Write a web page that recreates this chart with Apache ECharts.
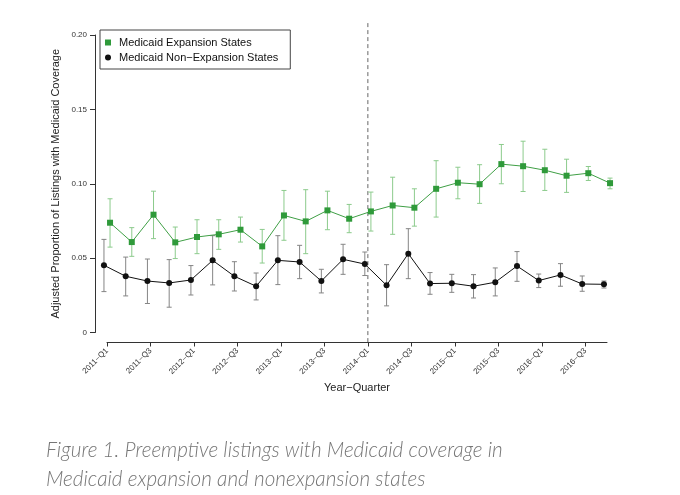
<!DOCTYPE html>
<html><head><meta charset="utf-8">
<script src="https://cdn.jsdelivr.net/npm/echarts@6/dist/echarts.min.js"></script>
<style>html,body{margin:0;padding:0;background:#fff}#c{width:680px;height:495px}</style>
</head><body><div id="c"></div>
<script>
const quarters = ['2011−Q1','2011−Q2','2011−Q3','2011−Q4','2012−Q1','2012−Q2','2012−Q3','2012−Q4',
  '2013−Q1','2013−Q2','2013−Q3','2013−Q4','2014−Q1','2014−Q2','2014−Q3','2014−Q4',
  '2015−Q1','2015−Q2','2015−Q3','2015−Q4','2016−Q1','2016−Q2','2016−Q3','2016−Q4'];
const xTickLabels = ['2011−Q1','2011−Q3','2012−Q1','2012−Q3','2013−Q1','2013−Q3','2014−Q1','2014−Q3','2015−Q1','2015−Q3','2016−Q1','2016−Q3'];
const yTicks = [0, 0.05, 0.10, 0.15, 0.20];
const yTickLabels = ['0','0.05','0.10','0.15','0.20'];
const policyQuarter = '2014−Q1';

const expansion     = [0.0738,0.0608,0.0792,0.0606,0.0642,0.0660,0.0691,0.0579,0.0787,0.0747,0.0821,0.0765,0.0814,0.0854,0.0839,0.0966,0.1007,0.0997,0.1132,0.1118,0.1091,0.1054,0.1071,0.1004];
const expansionLow  = [0.0574,0.0512,0.0631,0.0497,0.0530,0.0559,0.0608,0.0467,0.0620,0.0530,0.0691,0.0671,0.0682,0.0660,0.0715,0.0776,0.0899,0.0868,0.1000,0.0948,0.0955,0.0942,0.1022,0.0966];
const expansionHigh = [0.0899,0.0705,0.0950,0.0709,0.0758,0.0758,0.0776,0.0693,0.0955,0.0960,0.0950,0.0861,0.0944,0.1044,0.0966,0.1155,0.1111,0.1128,0.1264,0.1286,0.1232,0.1165,0.1116,0.1038];

const nonExpansion     = [0.0452,0.0378,0.0346,0.0333,0.0353,0.0485,0.0378,0.0311,0.0485,0.0474,0.0346,0.0492,0.0460,0.0317,0.0530,0.0329,0.0331,0.0311,0.0338,0.0447,0.0349,0.0387,0.0326,0.0324];
const nonExpansionLow  = [0.0275,0.0246,0.0195,0.0170,0.0252,0.0320,0.0279,0.0219,0.0322,0.0362,0.0266,0.0391,0.0383,0.0179,0.0362,0.0257,0.0270,0.0232,0.0246,0.0344,0.0302,0.0311,0.0277,0.0299];
const nonExpansionHigh = [0.0626,0.0507,0.0494,0.0490,0.0450,0.0651,0.0476,0.0400,0.0651,0.0586,0.0425,0.0593,0.0541,0.0456,0.0698,0.0403,0.0391,0.0389,0.0434,0.0544,0.0393,0.0463,0.0380,0.0346];

const nameExp = 'Medicaid Expansion States';
const nameNon = 'Medicaid Non−Expansion States';
const dodge = 0.14;
const GREEN = '#2f9a3a', GREEN_LINE = '#3f9f45', GREEN_ERR = '#8ccb8c';
const BLACK = '#111111', GRAY_ERR = '#858585';

const tickPos = xTickLabels.map(l => quarters.indexOf(l));
const policyIdx = quarters.indexOf(policyQuarter);

function errSeries(vals, lo, hi, off, color) {
  return {
    type: 'custom', clip: false, silent: true, z: 2,
    data: vals.map((v, i) => [i + off, lo[i], hi[i]]),
    encode: { x: 0, y: [1, 2] },
    renderItem: (params, api) => {
      const a = api.coord([api.value(0), api.value(2)]);
      const b = api.coord([api.value(0), api.value(1)]);
      const w = 2.5;
      const st = { stroke: color, lineWidth: 1 };
      return { type: 'group', children: [
        { type: 'line', shape: { x1: a[0], y1: a[1], x2: b[0], y2: b[1] }, style: st },
        { type: 'line', shape: { x1: a[0]-w, y1: a[1], x2: a[0]+w, y2: a[1] }, style: st },
        { type: 'line', shape: { x1: b[0]-w, y1: b[1], x2: b[0]+w, y2: b[1] }, style: st }
      ]};
    }
  };
}

const chart = echarts.init(document.getElementById('c'), null, { renderer: 'canvas' });
const yPad = 0.04 * (yTicks[yTicks.length-1] - yTicks[0]);
chart.setOption({
  animation: false,
  textStyle: { fontFamily: 'Liberation Sans, Arial, sans-serif' },
  title: {
    text: 'Figure 1. Preemptive listings with Medicaid coverage in\nMedicaid expansion and nonexpansion states',
    left: 41, top: 431,
    textStyle: { fontFamily: 'Lato', fontStyle: 'italic', fontWeight: 300, fontSize: 20.7, color: '#767676', lineHeight: 29 }
  },
  legend: {
    data: [{ name: nameExp, icon: 'rect' }, { name: nameNon, icon: 'circle' }],
    orient: 'vertical', left: 100, top: 30, padding: [6, 12, 5, 5], itemGap: 2,
    itemWidth: 6, itemHeight: 6, borderColor: '#444', borderWidth: 1, selectedMode: false,
    textStyle: { fontSize: 11, color: '#111', lineHeight: 13, padding: [0, 0, 0, 3] }
  },
  grid: { left: 107, right: 73, top: 35, bottom: 162.5, containLabel: false, outerBoundsMode: 'none' },
  xAxis: {
    type: 'value', min: 0, max: quarters.length - 1, offset: 10,
    splitLine: { show: false },
    axisLine: { show: true, onZero: false, lineStyle: { color: '#333', width: 1 } },
    axisTick: { show: true, length: 4, customValues: tickPos, lineStyle: { color: '#333' } },
    axisLabel: { customValues: tickPos, rotate: 45, fontSize: 8, color: '#333', margin: 7,
      formatter: v => quarters[Math.round(v)] },
    name: 'Year−Quarter', nameLocation: 'middle', nameGap: 40, nameMoveOverlap: false,
    nameTextStyle: { fontSize: 11, color: '#222' }
  },
  yAxis: {
    type: 'value', min: yTicks[0], max: yTicks[yTicks.length-1], interval: 0.05, offset: 12,
    splitLine: { show: false },
    axisLine: { show: true, onZero: false, lineStyle: { color: '#333', width: 1 } },
    axisTick: { show: true, length: 5, lineStyle: { color: '#333' } },
    axisLabel: { fontSize: 8, color: '#333', margin: 8,
      formatter: v => { const k = yTicks.findIndex(t => Math.abs(t - v) < 1e-9); return k >= 0 ? yTickLabels[k] : ''; } },
    name: 'Adjusted Proportion of Listings with Medicaid Coverage', nameLocation: 'middle', nameGap: 34,
    nameMoveOverlap: false, nameTextStyle: { fontSize: 11, color: '#222' }
  },
  series: [
    {
      type: 'custom', clip: false, silent: true, z: 1,
      data: [[policyIdx]], encode: { x: 0 },
      renderItem: (params, api) => {
        const t = api.coord([api.value(0), yTicks[yTicks.length-1] + yPad]);
        const b = api.coord([api.value(0), yTicks[0] - yPad]);
        return { type: 'line', shape: { x1: t[0], y1: t[1], x2: b[0], y2: b[1] },
          style: { stroke: '#666', lineWidth: 1, lineDash: [4, 3] } };
      }
    },
    errSeries(nonExpansion, nonExpansionLow, nonExpansionHigh, -dodge, GRAY_ERR),
    errSeries(expansion, expansionLow, expansionHigh, dodge, GREEN_ERR),
    {
      name: nameNon, type: 'line', z: 3, clip: false,
      data: nonExpansion.map((v, i) => [i - dodge, v]),
      symbol: 'circle', symbolSize: 6, showSymbol: true,
      itemStyle: { color: BLACK }, lineStyle: { color: BLACK, width: 1 }
    },
    {
      name: nameExp, type: 'line', z: 3, clip: false,
      data: expansion.map((v, i) => [i + dodge, v]),
      symbol: 'rect', symbolSize: 6, showSymbol: true,
      itemStyle: { color: GREEN }, lineStyle: { color: GREEN_LINE, width: 1 }
    }
  ]
});
</script>
</body></html>
